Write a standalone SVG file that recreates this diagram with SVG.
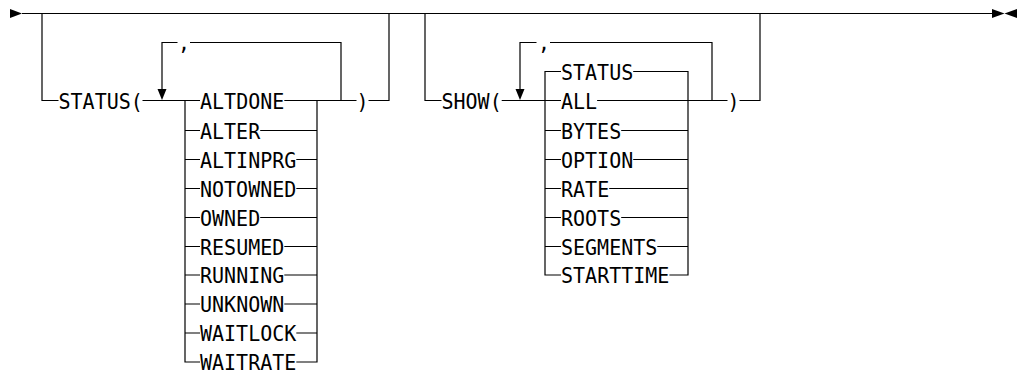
<svg xmlns="http://www.w3.org/2000/svg" width="1018" height="373" viewBox="0 0 1018 373">
<style>
.t{font-family:"DejaVu Sans Mono","Liberation Mono",monospace;font-size:22px;fill:#000}
.c{fill:none;stroke:#000;stroke-width:1.2}
.a{fill:#000}
</style>
<rect width="1018" height="373" fill="#fff"/>
<g id="connectors">
<path class="c" d="M22 13.5H992"/>
<path class="c" d="M42 13.5V100.5H58.5"/>
<path class="c" d="M142.5 100.5H200"/>
<path class="c" d="M284.3 100.5H356.5"/>
<path class="c" d="M368.5 100.5H389V13.5"/>
<path class="c" d="M162 89V42.5H177.5"/>
<path class="c" d="M190 42.5H341V100.5"/>
<path class="c" d="M185 100.5V362H200"/>
<path class="c" d="M296.3 362H317V100.5"/>
<path class="c" d="M185 130.5H200M260.2 130.5H317"/>
<path class="c" d="M185 159.5H200M296.3 159.5H317"/>
<path class="c" d="M185 188.5H200M296.3 188.5H317"/>
<path class="c" d="M185 217.5H200M260.2 217.5H317"/>
<path class="c" d="M185 246.5H200M284.3 246.5H317"/>
<path class="c" d="M185 275H200M284.3 275H317"/>
<path class="c" d="M185 304H200M284.3 304H317"/>
<path class="c" d="M185 333H200M296.3 333H317"/>
<path class="c" d="M425 13.5V100.5H441.5"/>
<path class="c" d="M501.7 100.5H561"/>
<path class="c" d="M597.1 100.5H727.5"/>
<path class="c" d="M739.5 100.5H760V13.5"/>
<path class="c" d="M520 89V42.5H536.5"/>
<path class="c" d="M550 42.5H712V100.5"/>
<path class="c" d="M561 71.5H545V275H561"/>
<path class="c" d="M633.2 71.5H688V275H669.4"/>
<path class="c" d="M545 130.5H561M621.2 130.5H688"/>
<path class="c" d="M545 159.5H561M633.2 159.5H688"/>
<path class="c" d="M545 188.5H561M609.2 188.5H688"/>
<path class="c" d="M545 217.5H561M621.2 217.5H688"/>
<path class="c" d="M545 246.5H561M657.3 246.5H688"/>
<polygon class="a" points="10,9 10,18 22,13.5"/>
<polygon class="a" points="992,9 992,18 1004.5,13.5"/>
<polygon class="a" points="1017,9 1017,18 1004.5,13.5"/>
<polygon class="a" points="157.5,89 166.5,89 162,100"/>
<polygon class="a" points="515.5,89 524.5,89 520,100"/>
</g>
<g id="status-kw"><text class="t" x="58.5" y="108.5" textLength="84.3" lengthAdjust="spacingAndGlyphs">STATUS(</text></g>
<g id="status-sep"><text class="t" x="178" y="50" textLength="12" lengthAdjust="spacingAndGlyphs">,</text></g>
<g id="altdone"><text class="t" x="200" y="108.5" textLength="84.3" lengthAdjust="spacingAndGlyphs">ALTDONE</text></g>
<g id="alter"><text class="t" x="200" y="138.5" textLength="60.2" lengthAdjust="spacingAndGlyphs">ALTER</text></g>
<g id="altinprg"><text class="t" x="200" y="167.5" textLength="96.3" lengthAdjust="spacingAndGlyphs">ALTINPRG</text></g>
<g id="notowned"><text class="t" x="200" y="196.5" textLength="96.3" lengthAdjust="spacingAndGlyphs">NOTOWNED</text></g>
<g id="owned"><text class="t" x="200" y="225.5" textLength="60.2" lengthAdjust="spacingAndGlyphs">OWNED</text></g>
<g id="resumed"><text class="t" x="200" y="254.5" textLength="84.3" lengthAdjust="spacingAndGlyphs">RESUMED</text></g>
<g id="running"><text class="t" x="200" y="283" textLength="84.3" lengthAdjust="spacingAndGlyphs">RUNNING</text></g>
<g id="unknown"><text class="t" x="200" y="312" textLength="84.3" lengthAdjust="spacingAndGlyphs">UNKNOWN</text></g>
<g id="waitlock"><text class="t" x="200" y="341" textLength="96.3" lengthAdjust="spacingAndGlyphs">WAITLOCK</text></g>
<g id="waitrate"><text class="t" x="200" y="370" textLength="96.3" lengthAdjust="spacingAndGlyphs">WAITRATE</text></g>
<g id="status-close"><text class="t" x="356.5" y="108.5" textLength="12" lengthAdjust="spacingAndGlyphs">)</text></g>
<g id="show-kw"><text class="t" x="441.5" y="108.5" textLength="60.2" lengthAdjust="spacingAndGlyphs">SHOW(</text></g>
<g id="show-sep"><text class="t" x="538" y="50" textLength="12" lengthAdjust="spacingAndGlyphs">,</text></g>
<g id="show-status"><text class="t" x="561" y="79.5" textLength="72.2" lengthAdjust="spacingAndGlyphs">STATUS</text></g>
<g id="all"><text class="t" x="561" y="108.5" textLength="36.1" lengthAdjust="spacingAndGlyphs">ALL</text></g>
<g id="bytes"><text class="t" x="561" y="138.5" textLength="60.2" lengthAdjust="spacingAndGlyphs">BYTES</text></g>
<g id="option"><text class="t" x="561" y="167.5" textLength="72.2" lengthAdjust="spacingAndGlyphs">OPTION</text></g>
<g id="rate"><text class="t" x="561" y="196.5" textLength="48.2" lengthAdjust="spacingAndGlyphs">RATE</text></g>
<g id="roots"><text class="t" x="561" y="225.5" textLength="60.2" lengthAdjust="spacingAndGlyphs">ROOTS</text></g>
<g id="segments"><text class="t" x="561" y="254.5" textLength="96.3" lengthAdjust="spacingAndGlyphs">SEGMENTS</text></g>
<g id="starttime"><text class="t" x="561" y="283" textLength="108.4" lengthAdjust="spacingAndGlyphs">STARTTIME</text></g>
<g id="show-close"><text class="t" x="727.5" y="108.5" textLength="12" lengthAdjust="spacingAndGlyphs">)</text></g>
</svg>
